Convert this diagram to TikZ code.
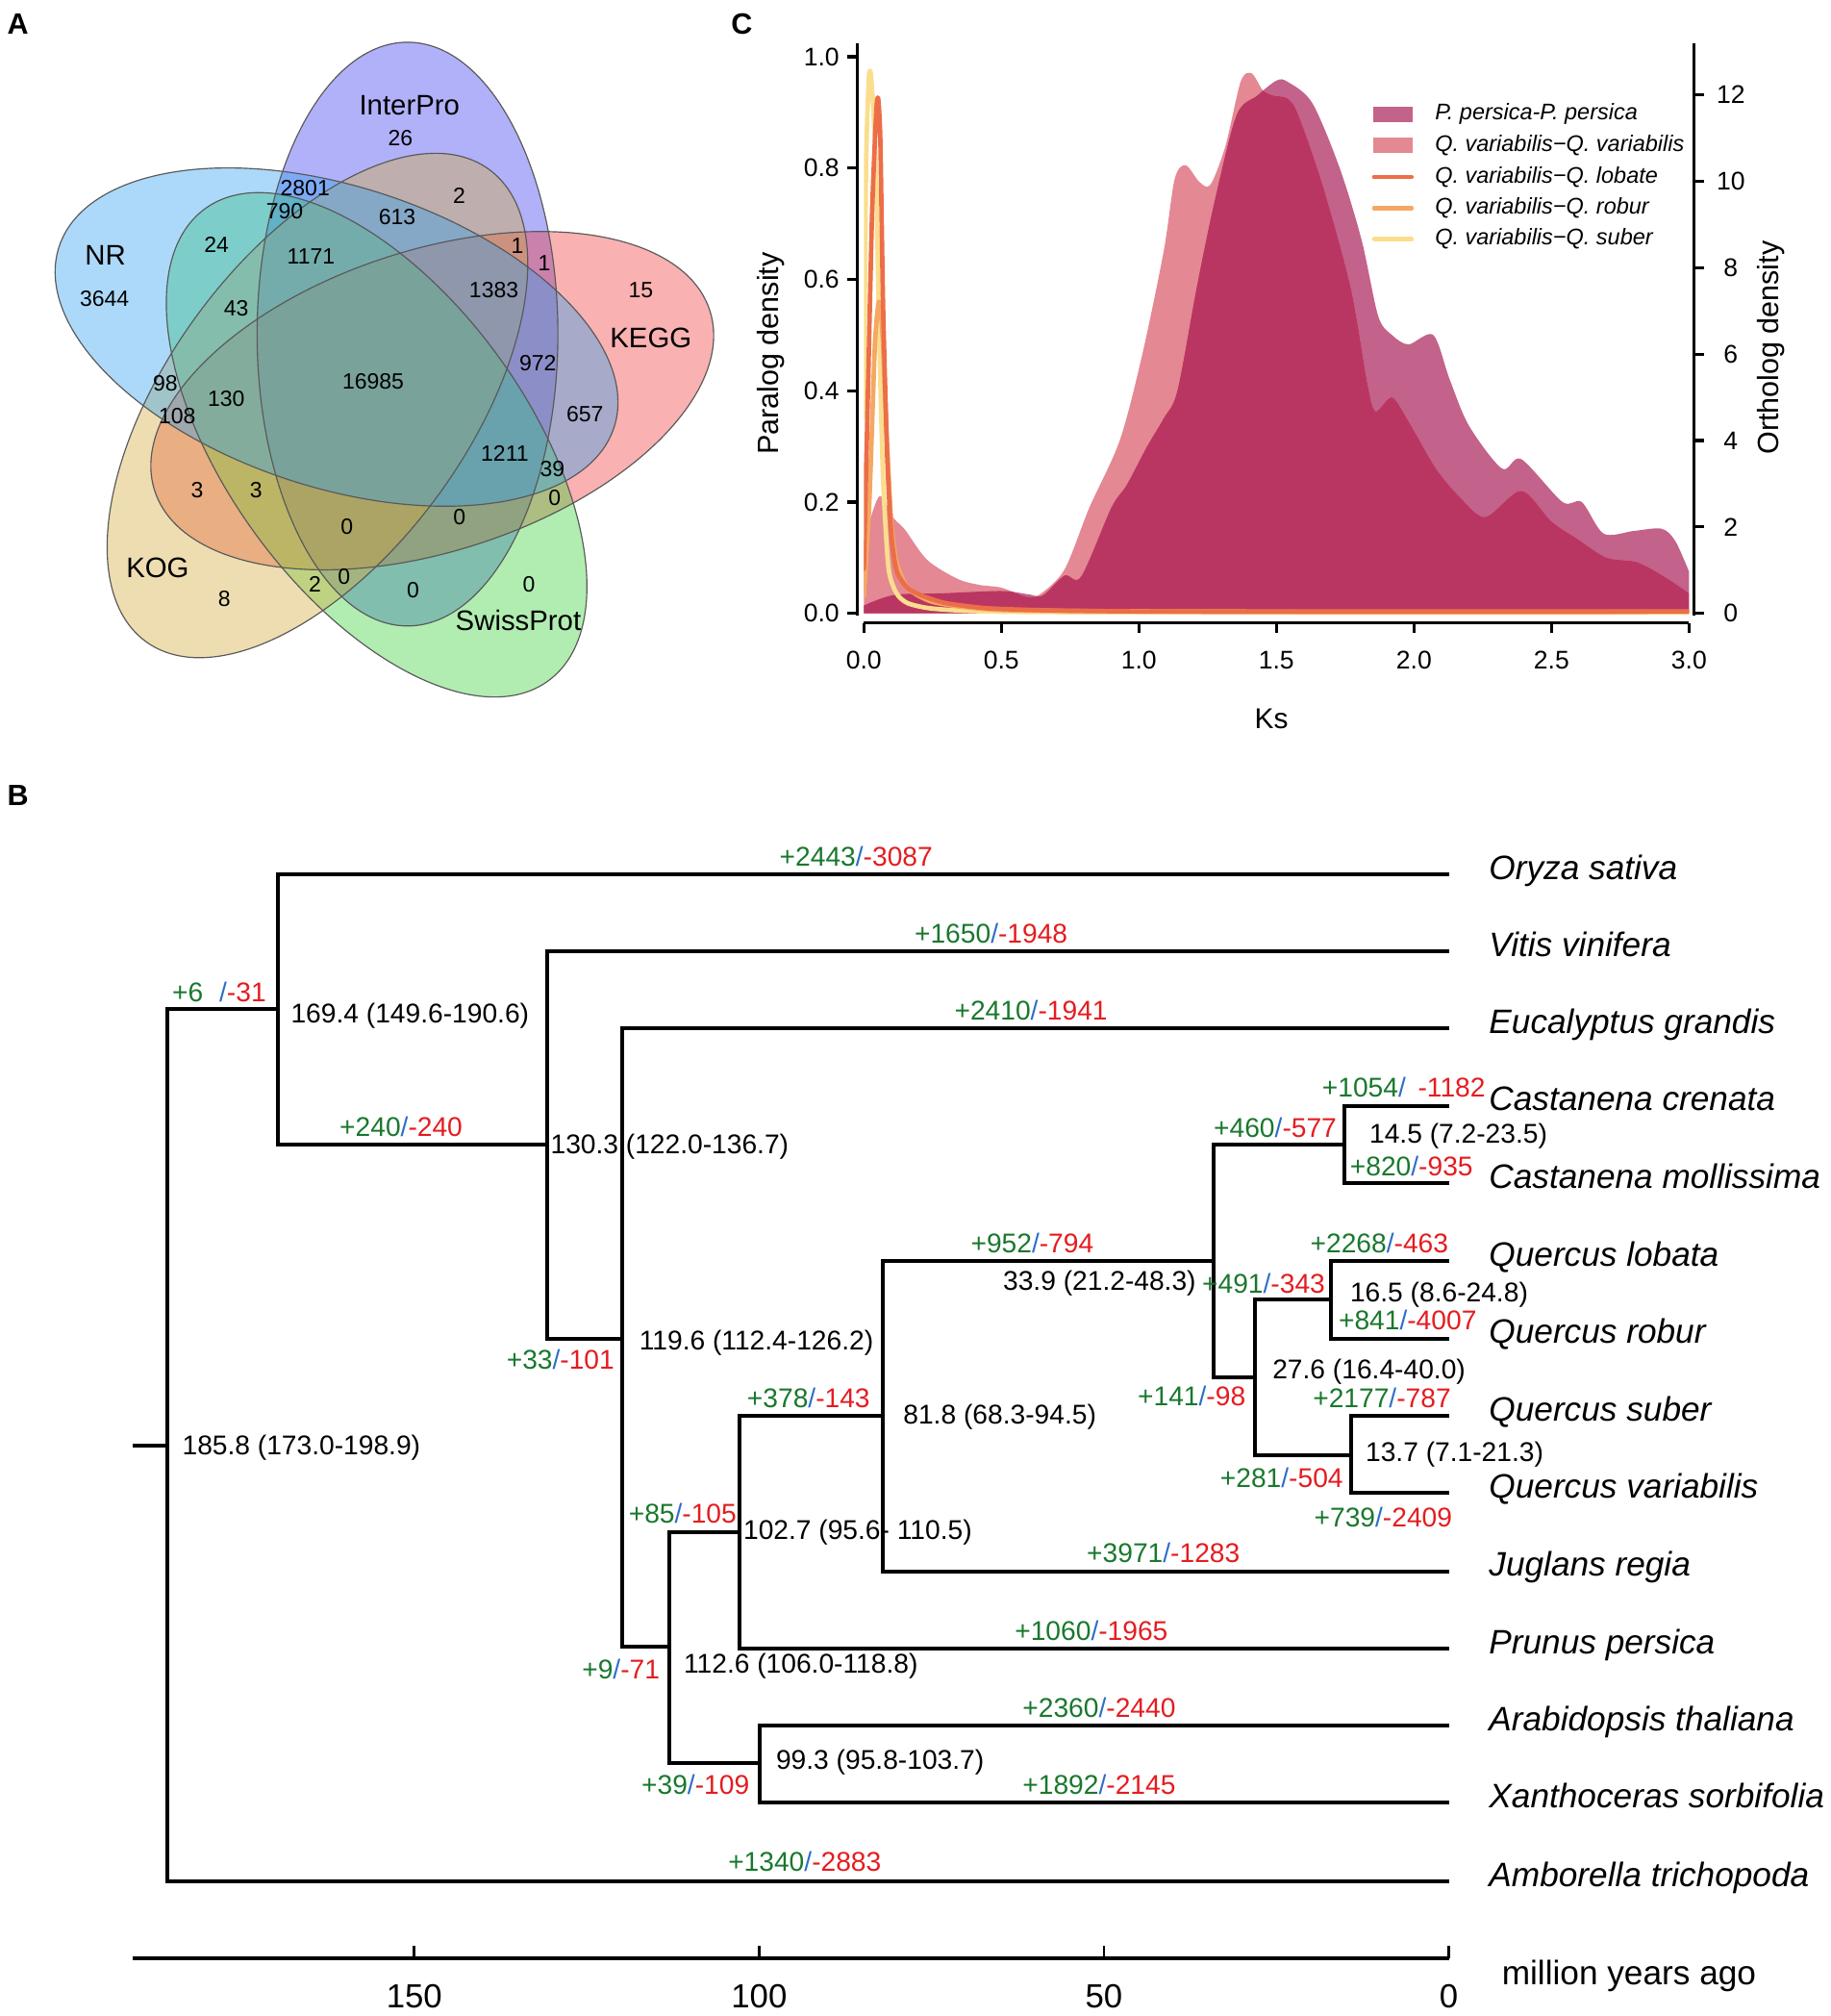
\documentclass[tikz,border=0pt]{standalone}
\usepackage{fontspec}
\setmainfont{Liberation Sans}
\usetikzlibrary{positioning}

\definecolor{nrblue}{RGB}{48,160,240}
\definecolor{iprblue}{RGB}{60,60,240}
\definecolor{keggred}{RGB}{240,60,60}
\definecolor{kogtan}{RGB}{210,170,60}
\definecolor{spgreen}{RGB}{60,210,60}
\definecolor{gaingreen}{RGB}{25,120,45}
\definecolor{lossred}{RGB}{228,28,32}
\definecolor{slashblue}{RGB}{45,110,200}
\definecolor{pperfill}{RGB}{195,98,138}
\definecolor{qvarfill}{RGB}{228,136,147}
\definecolor{bothfill}{RGB}{186,54,98}
\definecolor{lobline}{RGB}{236,110,72}
\definecolor{robline}{RGB}{244,168,98}
\definecolor{subline}{RGB}{250,222,142}

\newcommand{\fsz}[1]{\fontsize{#1}{#1}\selectfont}
\newcommand{\gainloss}[2]{\textcolor{gaingreen}{+#1}\textcolor{slashblue}{/}\textcolor{lossred}{-#2}}

\tikzset{
  venn/.style={draw=black!65,line width=0.5pt},
  vnum/.style={font=\fsz{9.8},inner sep=0pt},
  vset/.style={font=\fsz{12.5},inner sep=0pt},
  panel/.style={font=\bfseries\fsz{13},inner sep=0pt},
  branch/.style={line width=1.7pt},
  age/.style={font=\fsz{12},inner sep=0pt,anchor=west},
  gl/.style={font=\fsz{12},inner sep=0pt},
  species/.style={font=\itshape\fsz{15},inner sep=0pt,anchor=base west},
  axisl/.style={line width=1.4pt},
  ticklab/.style={font=\fsz{11.3},inner sep=0pt},
  ortho/.style={line width=2pt,line cap=round,line join=round},
  legtext/.style={font=\itshape\fsz{10},inner sep=0pt,anchor=west},
}

\begin{document}
\begin{tikzpicture}[x=0.02cm,y=-0.02cm]
  \useasboundingbox (0,0) rectangle (1424,1568);
  \node[panel] (lab-a) at (14,19) {A};
  \node[panel] (lab-c) at (577,19) {C};
  \node[panel] (lab-b) at (14,619) {B};

  % A: five set venn
  \begin{scope}[shift={(291,299)},y=0.02cm]
    \foreach \a/\c in {56.4/iprblue,-15.6/keggred,-87.6/spgreen,-159.6/kogtan,128.4/nrblue}
      \fill[\c,fill opacity=0.4,shift={(\a:47)},rotate=\a+33.6] (0,0) ellipse [x radius=227,y radius=117];
    \foreach \a in {128.4,56.4,-15.6,-87.6,-159.6}
      \draw[venn,shift={(\a:47)},rotate=\a+33.6] (0,0) ellipse [x radius=227,y radius=117];
  \end{scope}
  \node[vset] (set-ipr) at (318.5,82) {InterPro};
  \node[vset] (set-nr) at (82,198.5) {NR};
  \node[vset] (set-kegg) at (506.3,262.8) {KEGG};
  \node[vset] (set-kog) at (122.6,442) {KOG};
  \node[vset] (set-sp) at (403.2,482.7) {SwissProt};
  \foreach \x/\y/\t [count=\i] in {311.5/107.4/26,237.3/146.3/2801,221.5/164/790,309/168.5/613,
      357.3/152/2,81.3/232.7/3644,168.5/190.4/24,242/199.2/1171,183.7/239.8/43,402.5/191.5/1,
      423.4/204.5/1,384.2/225.7/1383,498.5/225.7/15,418.4/282.2/972,290.3/296.3/16985,
      128.6/298/98,176/310.4/130,137.8/323.8/108,455.1/322/657,392.7/353/1211,429.7/364.4/39,
      153.3/381.4/3,199.2/381.4/3,431.5/387.4/0,357.4/402.5/0,269.8/409.6/0,245.1/454.4/2,
      267.7/448.4/0,321.3/459/0,411.4/454.4/0,174.5/466/8}
    \node[vnum] (vn\i) at (\x,\y) {\t};

  % C: Ks distribution
  \begin{scope}[shift={(672,477)},x=4.28cm,y=8.66cm]
    \path[save path=\pperpath] (0,0) -- plot[smooth,tension=0.5] coordinates {(0,0.014) (0.11,0.033)
      (0.29,0.036) (0.5,0.04) (0.6,0.034) (0.65,0.032) (0.73,0.068) (0.79,0.066) (0.9,0.19)
      (0.955,0.23) (1.03,0.30) (1.09,0.35) (1.14,0.40) (1.21,0.585) (1.275,0.74) (1.355,0.895)
      (1.43,0.93) (1.5,0.957) (1.54,0.955) (1.63,0.917) (1.73,0.80) (1.81,0.67) (1.87,0.534)
      (1.92,0.50) (1.98,0.483) (2.07,0.50) (2.13,0.42) (2.20,0.337) (2.32,0.26) (2.39,0.277)
      (2.54,0.20) (2.61,0.20) (2.69,0.143) (2.80,0.148) (2.90,0.152) (2.95,0.13) (3.0,0.075)}
      -- (3,0) -- cycle;
    \path[save path=\qvarpath] (0,0) -- plot[smooth,tension=0.5] coordinates {(0,0.13) (0.056,0.21)
      (0.11,0.17) (0.15,0.15) (0.23,0.096) (0.34,0.062) (0.42,0.051) (0.5,0.046) (0.59,0.03)
      (0.64,0.034) (0.73,0.079) (0.82,0.19) (0.93,0.31) (1.01,0.46) (1.09,0.65) (1.13,0.78)
      (1.17,0.805) (1.22,0.775) (1.26,0.77) (1.315,0.84) (1.37,0.955) (1.41,0.97) (1.45,0.94)
      (1.49,0.93) (1.54,0.925) (1.58,0.895) (1.67,0.766) (1.77,0.585) (1.83,0.415) (1.86,0.363)
      (1.92,0.388) (1.98,0.345) (2.08,0.26) (2.17,0.207) (2.26,0.173) (2.39,0.22) (2.50,0.165)
      (2.59,0.135) (2.70,0.10) (2.81,0.092) (2.91,0.066) (3.0,0.036)}
      -- (3,0) -- cycle;
    \fill[pperfill,use path=\pperpath];
    \fill[qvarfill,use path=\qvarpath];
    \begin{scope}
      \clip[use path=\pperpath];
      \fill[bothfill,use path=\qvarpath];
    \end{scope}
    \begin{scope}
      \clip (0,-0.015) rectangle (3.0,1.02);
      \draw[ortho,subline] plot[smooth,tension=0.4] coordinates {(0,0.35) (0.008,0.8) (0.018,0.96)
        (0.025,0.97) (0.035,0.9) (0.045,0.78) (0.056,0.5) (0.07,0.24) (0.09,0.08) (0.12,0.035)
        (0.16,0.018) (0.24,0.009) (0.4,0.004) (0.8,0.002) (3,0.002)};
      \draw[ortho,robline] plot[smooth,tension=0.4] coordinates {(0,0.03) (0.02,0.2) (0.04,0.48)
        (0.055,0.56) (0.068,0.5) (0.083,0.32) (0.1,0.16) (0.12,0.09) (0.16,0.045) (0.24,0.022)
        (0.35,0.012) (0.5,0.006) (0.8,0.004) (1.5,0.003) (3,0.003)};
      \draw[ortho,lobline] plot[smooth,tension=0.4] coordinates {(0,0.08) (0.015,0.4) (0.03,0.72)
        (0.045,0.9) (0.052,0.925) (0.06,0.85) (0.07,0.55) (0.085,0.28) (0.1,0.14) (0.12,0.075)
        (0.16,0.045) (0.22,0.03) (0.3,0.018) (0.45,0.009) (0.7,0.005) (1.2,0.003) (3,0.003)};
    \end{scope}
    % axes
    \draw[axisl] (-0.023,-0.004) -- (-0.023,1.024);
    \foreach \t [count=\i] in {0.0,0.2,0.4,0.6,0.8,1.0} {
      \draw[axisl] (-0.023,\t) -- (-0.06,\t);
      \node[ticklab,anchor=east] (pd\i) at (-0.088,\t) {\t};
    }
    \draw[axisl] (0,-0.0173) -- (3,-0.0173);
    \foreach \t [count=\i] in {0.0,0.5,1.0,1.5,2.0,2.5,3.0} {
      \draw[axisl] (\t,-0.0173) -- (\t,-0.036);
      \node[ticklab] (ks\i) at (\t,-0.084) {\t};
    }
    \draw[axisl] (3.019,-0.004) -- (3.019,1.024);
    \foreach \o [count=\i] in {0,2,...,12} {
      \draw[axisl] (3.019,\o*0.0776) -- (3.056,\o*0.0776);
      \node[ticklab] (od\i) at (3.152,\o*0.0776) {\o};
    }
  \end{scope}
  \node[font=\fsz{13},rotate=90,inner sep=0pt] (ylab-l) at (599.6,275) {Paralog density};
  \node[font=\fsz{13},rotate=90,inner sep=0pt] (ylab-r) at (1377.6,270.5) {Ortholog density};
  \node[font=\fsz{12.7},inner sep=0pt] (xlab) at (989,559) {Ks};
  % legend
  \fill[pperfill] (1068,83) rectangle (1099,95);
  \fill[qvarfill] (1068,107) rectangle (1099,119);
  \draw[ortho,lobline] (1069,137.7) -- (1098,137.7);
  \draw[ortho,robline] (1069,161.9) -- (1098,161.9);
  \draw[ortho,subline] (1069,186) -- (1098,186);
  \node[legtext] (leg1) at (1116,88.6) {P. persica-P. persica};
  \node[legtext] (leg2) at (1116,112.8) {Q. variabilis−Q. variabilis};
  \node[legtext] (leg3) at (1116,137.7) {Q. variabilis−Q. lobate};
  \node[legtext] (leg4) at (1116,161.9) {Q. variabilis−Q. robur};
  \node[legtext] (leg5) at (1116,186) {Q. variabilis−Q. suber};

  % B: dated tree
  \coordinate (stub) at (103,1124);
  \coordinate (root) at (130,1124);
  \coordinate (n1) at (216,785);
  \coordinate (n2) at (426,890);
  \coordinate (n3) at (484,1041);
  \coordinate (n4) at (521,1281);
  \coordinate (n5) at (575,1192);
  \coordinate (n6) at (687,1101);
  \coordinate (n7) at (944,981);
  \coordinate (n8) at (1046,890);
  \coordinate (n9) at (976,1071);
  \coordinate (n10) at (1035,1011);
  \coordinate (n11) at (1051,1132);
  \coordinate (n12) at (591,1371);
  \foreach \y/\nm/\sp in {680/osa/Oryza sativa,740/vvi/Vitis vinifera,800/egr/Eucalyptus grandis,
      860/ccr/Castanena crenata,920/cmo/Castanena mollissima,981/qlo/Quercus lobata,
      1041/qro/Quercus robur,1101/qsu/Quercus suber,1161/qva/Quercus variabilis,
      1222/jre/Juglans regia,1282/ppe/Prunus persica,1342/ath/Arabidopsis thaliana,
      1402/xso/Xanthoceras sorbifolia,1463/atr/Amborella trichopoda} {
    \coordinate (\nm) at (1127,\y);
    \node[species] (\nm-name) at (1158,\y+4) {\sp};
  }
  \draw[branch] (stub) -- (root);
  \foreach \p/\c in {root/n1,root/atr,n1/osa,n1/n2,n2/vvi,n2/n3,n3/egr,n3/n4,n4/n5,n4/n12,
      n5/n6,n5/ppe,n6/n7,n6/jre,n7/n8,n7/n9,n8/ccr,n8/cmo,n9/n10,n9/n11,n10/qlo,n10/qro,
      n11/qsu,n11/qva,n12/ath,n12/xso}
    \draw[branch] (\p) |- (\c);

  % node ages
  \foreach \x/\y/\t [count=\i] in {141.5/1125.7/{185.8 (173.0-198.9)},226/790/{169.4 (149.6-190.6)},
      428/892/{130.3 (122.0-136.7)},497/1044.7/{119.6 (112.4-126.2)},531.6/1296/{112.6 (106.0-118.8)},
      578/1191.6/{102.7 (95.6- 110.5)},603.4/1371/{99.3 (95.8-103.7)},702.4/1102/{81.8 (68.3-94.5)},
      780/998.4/{33.9 (21.2-48.3)},1065/883.7/{14.5 (7.2-23.5)},1050/1006.8/{16.5 (8.6-24.8)},
      989.6/1067/{27.6 (16.4-40.0)},1062/1131/{13.7 (7.1-21.3)}}
    \node[age] (age\i) at (\x,\y) {\t};

  % gains and losses
  \foreach \x/\y/\g/\l [count=\i] in {666/666/2443/3087,771/726/1650/1948,802/786/2410/1941,
      312/876/240/240,436/1057/33/101,629/1087/378/143,531/1177/85/105,483/1298/9/71,
      541/1388/39/109,849/1268/1060/1965,855/1328/2360/2440,855/1388/1892/2145,
      626/1448/1340/2883,905/1208/3971/1283,803/967/952/794,992/877/460/577,
      1098/907/820/935,1073/967/2268/463,983/998/491/343,1095/1027/841/4007,
      927/1086/141/98,1075/1087/2177/787,997/1149/281/504,1076/1180/739/2409}
    \node[gl] (gl\i) at (\x,\y) {\gainloss{\g}{\l}};
  \node[gl] (gl-root) at (170.5,771.6) {\textcolor{gaingreen}{+6}\hspace{0.6em}\textcolor{slashblue}{/}\textcolor{lossred}{-31}};
  \node[gl] (gl-ccr) at (1092,846) {\textcolor{gaingreen}{+1054}\textcolor{slashblue}{/}\hspace{0.45em}\textcolor{lossred}{-1182}};

  % time axis
  \coordinate (tstart) at (103,1523);
  \coordinate (tend) at (1127,1523);
  \draw[branch] (tstart) -- (tend);
  \foreach \t in {0,50,100,150} {
    \pgfmathsetmacro{\xt}{1127-5.365*\t}
    \draw[line width=1.2pt] (\xt,1523) -- (\xt,1513);
    \node[font=\fsz{14.8},inner sep=0pt] (tick\t) at (\xt,1553) {\t};
  }
  \node[font=\fsz{15},inner sep=0pt,anchor=west] (myr) at (1168,1537) {million years ago};
\end{tikzpicture}
\end{document}
